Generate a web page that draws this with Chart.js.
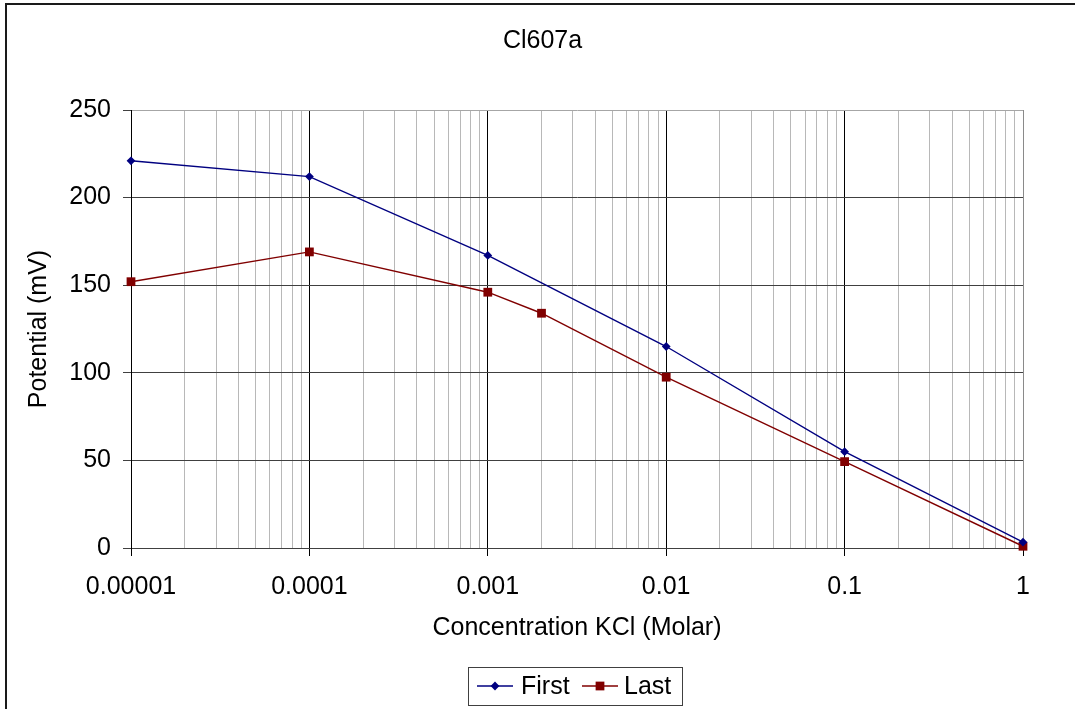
<!DOCTYPE html>
<html lang="en">
<head>
    <meta charset="UTF-8">
    <title>Cl607a</title>
    <script src="https://cdn.jsdelivr.net/npm/chart.js@4.4.1/dist/chart.umd.min.js"></script>
    <style>
        body { margin: 0; background: #fff; }
        #wrap { width: 1075px; height: 709px; }
    </style>
</head>
<body>
    <div id="wrap">
        <canvas id="potChart" width="1075" height="709"></canvas>
    </div>
    <script>
        // KCl concentration (M) and measured potential (mV)
        var concFirst = [0.00001, 0.0001, 0.001, 0.01, 0.1, 1];
        var potFirst  = [221, 212, 167, 115, 55, 3.3];
        var concLast  = [0.00001, 0.0001, 0.001, 0.002, 0.01, 0.1, 1];
        var potLast   = [152, 169, 146, 134, 97.5, 49.3, 1];

        var decades     = [0.00001, 0.0001, 0.001, 0.01, 0.1, 1];
        var decadeNames = ['0.00001', '0.0001', '0.001', '0.01', '0.1', '1'];
        var potTicks    = [0, 50, 100, 150, 200, 250];

        var FONT = "'Liberation Sans', Arial, sans-serif";
        var FSIZE = 25;

        function pairs(xs, ys) {
            return xs.map(function (x, i) { return { x: x, y: ys[i] }; });
        }

        // 1..9 x 10^k between the decades -> minor grid lines
        function logTicks() {
            var t = [];
            for (var d = 0; d < decades.length; d++) {
                t.push({ value: decades[d], major: true });
                if (d < decades.length - 1) {
                    for (var m = 2; m <= 9; m++) t.push({ value: decades[d] * m, major: false });
                }
            }
            return t;
        }
        function isDecade(v) {
            return decades.some(function (d) { return Math.abs(d - v) / d < 1e-6; });
        }

        // outer frame, title and boxed legend
        var decorations = {
            id: 'decorations',
            beforeDraw: function (chart) {
                var ctx = chart.ctx;
                ctx.save();
                ctx.strokeStyle = '#1a1a1a';
                ctx.lineWidth = 2;
                ctx.strokeRect(6, 4, 2000, 2000);
                ctx.restore();
            },
            afterDraw: function (chart) {
                var ctx = chart.ctx;
                ctx.save();
                ctx.fillStyle = '#000';
                ctx.font = FSIZE + 'px ' + FONT;
                ctx.textAlign = 'center';
                ctx.textBaseline = 'middle';
                ctx.fillText('Cl607a', 542.5, 41);

                // legend box
                ctx.strokeStyle = '#404040';
                ctx.lineWidth = 1;
                ctx.strokeRect(468.5, 667.5, 214, 38);

                var items = [
                    { ds: chart.data.datasets[0], x0: 477, x1: 513, tx: 521 },
                    { ds: chart.data.datasets[1], x0: 582, x1: 618, tx: 624 }
                ];
                var ly = 686;
                items.forEach(function (it) {
                    ctx.strokeStyle = it.ds.borderColor;
                    ctx.lineWidth = it.ds.borderWidth;
                    ctx.beginPath();
                    ctx.moveTo(it.x0, ly);
                    ctx.lineTo(it.x1, ly);
                    ctx.stroke();
                    ctx.fillStyle = it.ds.pointBackgroundColor;
                    Chart.helpers.drawPoint(ctx, {
                        pointStyle: it.ds.pointStyle,
                        radius: it.ds.pointRadius,
                        borderWidth: 0,
                        rotation: 0
                    }, (it.x0 + it.x1) / 2, ly);
                    ctx.fillStyle = '#000';
                    ctx.textAlign = 'left';
                    ctx.fillText(it.ds.label, it.tx, ly + 1);
                });
                ctx.restore();
            }
        };

        var ctxL = document.getElementById('potChart').getContext('2d');
        var potChart = new Chart(ctxL, {
            type: 'line',
            data: {
                datasets: [{
                    label: 'First',
                    data: pairs(concFirst, potFirst),
                    borderColor: '#000080',
                    backgroundColor: '#000080',
                    pointBackgroundColor: '#000080',
                    pointBorderWidth: 0,
                    pointStyle: 'rectRot',
                    pointRadius: 4.4,
                    borderWidth: 1.4,
                    tension: 0,
                    clip: false
                }, {
                    label: 'Last',
                    data: pairs(concLast, potLast),
                    borderColor: '#800000',
                    backgroundColor: '#800000',
                    pointBackgroundColor: '#800000',
                    pointBorderWidth: 0,
                    pointStyle: 'rect',
                    pointRadius: 6.2,
                    borderWidth: 1.4,
                    tension: 0,
                    clip: false
                }]
            },
            options: {
                responsive: false,
                animation: false,
                devicePixelRatio: 1,
                layout: { padding: { top: 110, right: 52, bottom: 59, left: 0 } },
                plugins: {
                    legend: { display: false },
                    title: { display: false },
                    tooltip: { enabled: false }
                },
                scales: {
                    x: {
                        type: 'logarithmic',
                        min: 0.00001,
                        max: 1,
                        afterBuildTicks: function (scale) { scale.ticks = logTicks(); },
                        afterFit: function (scale) { scale.height = 102; },
                        border: { color: '#404040', width: 1 },
                        grid: {
                            lineWidth: 1,
                            tickLength: 8,
                            color: function (c) {
                                var v = c.tick ? c.tick.value : 0;
                                if (v === 1) return '#8a8a8a';
                                return isDecade(v) ? '#000' : '#b8b8b8';
                            },
                            tickColor: function (c) {
                                var v = c.tick ? c.tick.value : 0;
                                return isDecade(v) ? '#000' : 'rgba(0,0,0,0)';
                            }
                        },
                        ticks: {
                            autoSkip: false,
                            maxRotation: 0,
                            padding: 16,
                            color: '#000',
                            font: { family: FONT, size: FSIZE },
                            callback: function (value) {
                                var i = decades.findIndex(function (d) { return Math.abs(d - value) / d < 1e-6; });
                                return i >= 0 ? decadeNames[i] : '';
                            }
                        },
                        title: {
                            display: true,
                            text: 'Concentration KCl (Molar)',
                            color: '#000',
                            font: { family: FONT, size: FSIZE },
                            padding: { top: 0, bottom: 7 }
                        }
                    },
                    y: {
                        min: 0,
                        max: 250,
                        afterBuildTicks: function (scale) {
                            scale.ticks = potTicks.map(function (v) { return { value: v }; });
                        },
                        afterFit: function (scale) { scale.width = 131; },
                        border: { color: '#000', width: 1 },
                        grid: {
                            lineWidth: 1,
                            tickLength: 8,
                            color: function (c) {
                                var v = c.tick ? c.tick.value : 0;
                                return v === 250 ? '#a6a6a6' : '#404040';
                            },
                            tickColor: '#404040'
                        },
                        ticks: {
                            padding: 12,
                            color: '#000',
                            font: { family: FONT, size: FSIZE }
                        },
                        title: {
                            display: true,
                            text: 'Potential (mV)',
                            color: '#000',
                            font: { family: FONT, size: FSIZE },
                            padding: { top: 24, bottom: 0 }
                        }
                    }
                }
            },
            plugins: [decorations]
        });
    </script>
</body>
</html>
